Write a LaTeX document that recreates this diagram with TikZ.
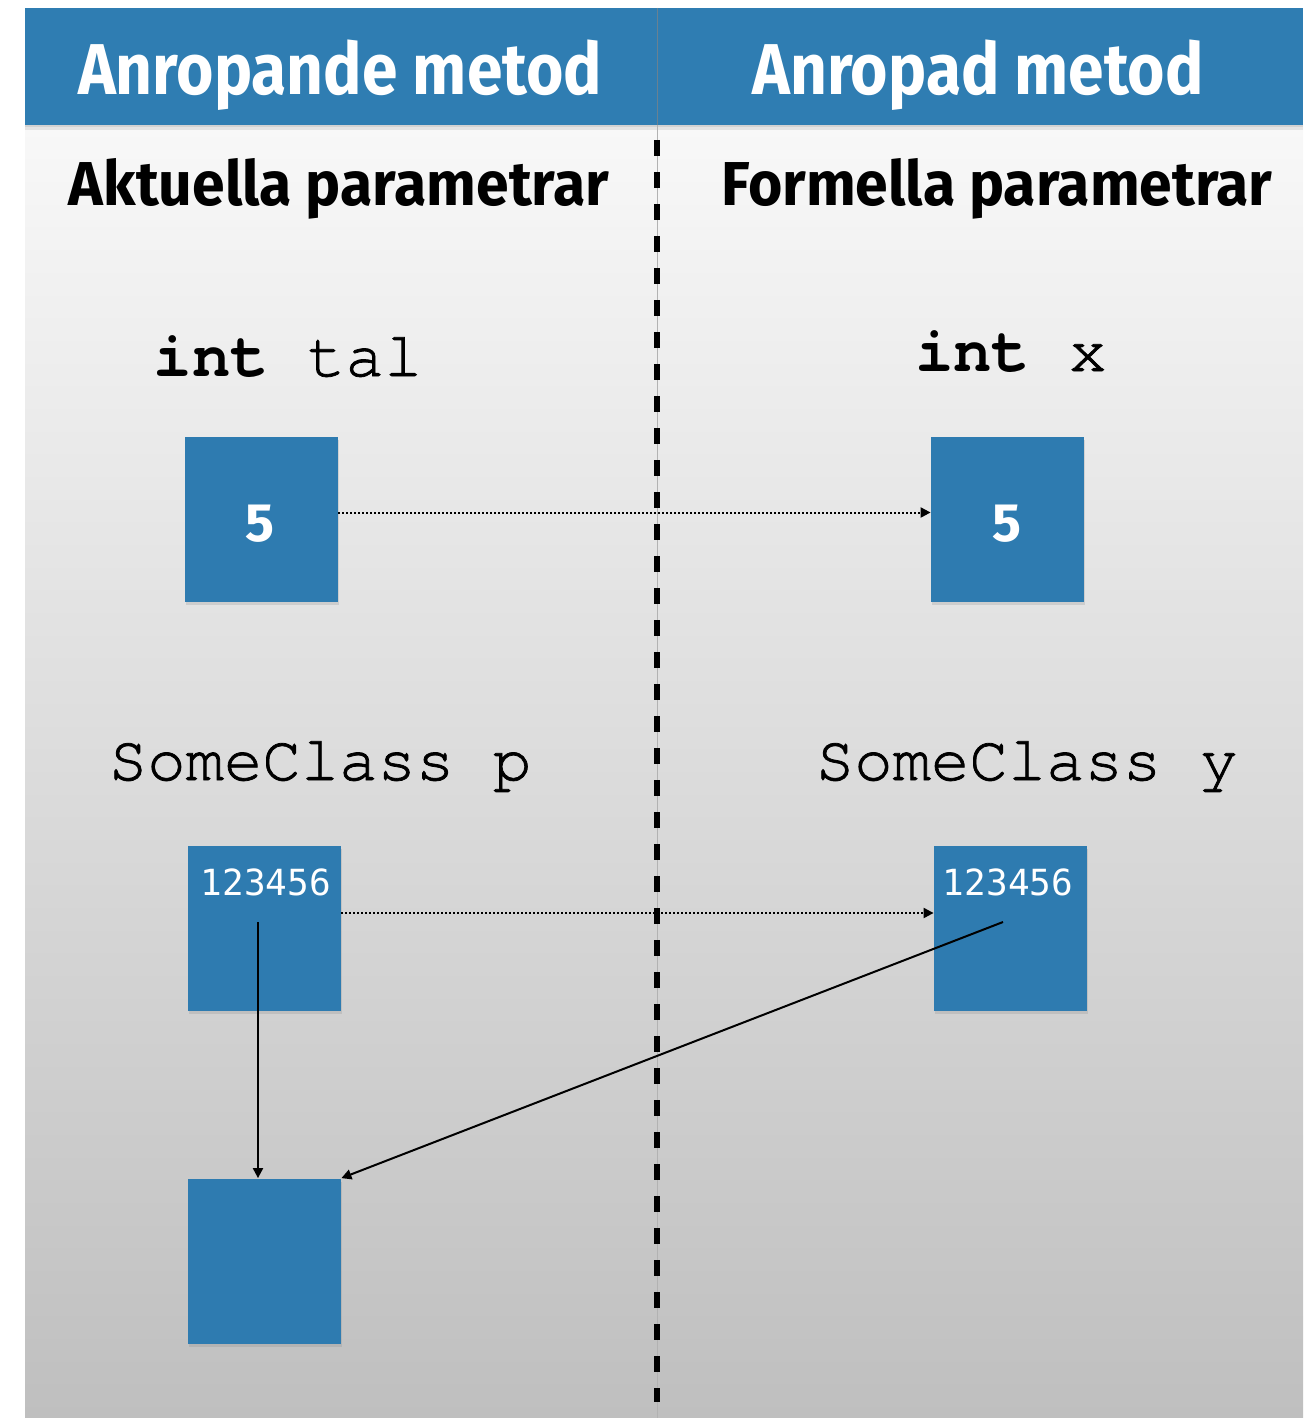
\documentclass[tikz,border=0pt]{standalone}
\usepackage{fontspec}
\setmainfont{Fira Sans}
\newfontfamily\hdrfont[FakeStretch=0.89]{Fira Sans}
\newfontfamily\subfont[FakeStretch=0.95]{Fira Sans}
\newfontfamily\codefont[FakeBold=1.2]{TeX Gyre Cursor}
\newfontfamily\codebf{TeX Gyre Cursor Bold}
\newfontfamily\numfont{DejaVu Sans Mono}
\usetikzlibrary{shadows,arrows.meta}
\definecolor{hdrblue}{RGB}{47,125,178}
\definecolor{boxblue}{RGB}{46,123,176}
\definecolor{bgtop}{RGB}{248,248,248}
\definecolor{bgbot}{RGB}{191,191,191}
\tikzset{
  valbox/.style={fill=boxblue, minimum width=76.5pt, minimum height=82.5pt, inner sep=0pt,
    drop shadow={opacity=0.22, shadow xshift=0.5pt, shadow yshift=-1.5pt}},
  hdrtext/.style={text=white, font=\fontsize{36}{40}\hdrfont\bfseries, anchor=base, inner sep=0pt},
  subtext/.style={text=black, font=\fontsize{31}{36}\subfont\bfseries, anchor=base, inner sep=0pt},
  codetext/.style={text=black, font=\fontsize{32}{36}\codefont, anchor=base, inner sep=0pt},
  fivetext/.style={text=white, font=\fontsize{27}{30}\selectfont\bfseries, anchor=base, inner sep=0pt},
  numtext/.style={text=white, font=\fontsize{18}{20}\selectfont\numfont, anchor=base, inner sep=0pt},
  dotarrow/.style={line width=1pt, dash pattern=on 1pt off 1pt, -{Triangle[length=5pt,width=5pt]}},
  refarrow/.style={line width=1pt, -{Triangle[length=5pt,width=5pt]}},
  divider/.style={line width=3pt, dash pattern=on 8pt off 8pt},
}
\begin{document}
\begin{tikzpicture}[x=0.5pt,y=-0.5pt]
\useasboundingbox (0,0) rectangle (1307,1418);
% backgrounds
\shade[top color=bgtop, bottom color=bgbot] (25,125) rectangle (1303,1418);
\fill[black,opacity=0.08] (25,125) rectangle (1303,130);
\fill[black,opacity=0.08] (25,125) rectangle (1303,127);
\fill[hdrblue] (25,8) rectangle (1303,125);
\draw[gray!60,line width=0.5pt] (657,8) -- (657,1418);
\draw[black!35!hdrblue,line width=0.5pt,opacity=0.5] (657,8) -- (657,125);
% divider
\coordinate (dtop) at (657,140);
\coordinate (dbot) at (657,1402);
\draw[divider] (dtop) -- (dbot);
% headers
\node[hdrtext] (h1) at (340,95) {Anropande metod};
\node[hdrtext] (h2) at (978,95) {Anropad metod};
\node[subtext] (s1) at (339,205) {Aktuella parametrar};
\node[subtext] (s2) at (997,205) {Formella parametrar};
% code labels
\node[codetext] (c1) at (288,376) {{\codebf int} tal};
\node[codetext] (c2) at (1011,371) {{\codebf int} x};
\node[codetext] (c3) at (320,780) {SomeClass p};
\node[codetext] (c4) at (1027,780) {SomeClass y};
% boxes
\node[valbox] (b1) at (261.5,519.5) {};
\node[valbox] (b2) at (1007.5,519.5) {};
\node[valbox] (b3) at (264.5,928) {};
\node[valbox] (b4) at (1010.5,928) {};
\node[valbox] (b5) at (264.5,1261) {};
\node[fivetext] (v1) at (260,541) {5};
\node[fivetext] (v2) at (1007,541) {5};
\node[numtext] (n1) at (266,895) {123456};
\node[numtext] (n2) at (1008,895) {123456};
% connectors
\draw[dotarrow] ([yshift=3.5pt]b1.east) -- ([yshift=3.5pt]b2.west);
\draw[dotarrow] ([yshift=7.5pt]b3.east) -- ([yshift=7.5pt]b4.west);
\coordinate (p) at (258,922);
\coordinate (q) at (1003,922);
\draw[refarrow] (p) -- (p |- b5.north);
\draw[refarrow] (q) -- (b5.north east);
\end{tikzpicture}
\end{document}
